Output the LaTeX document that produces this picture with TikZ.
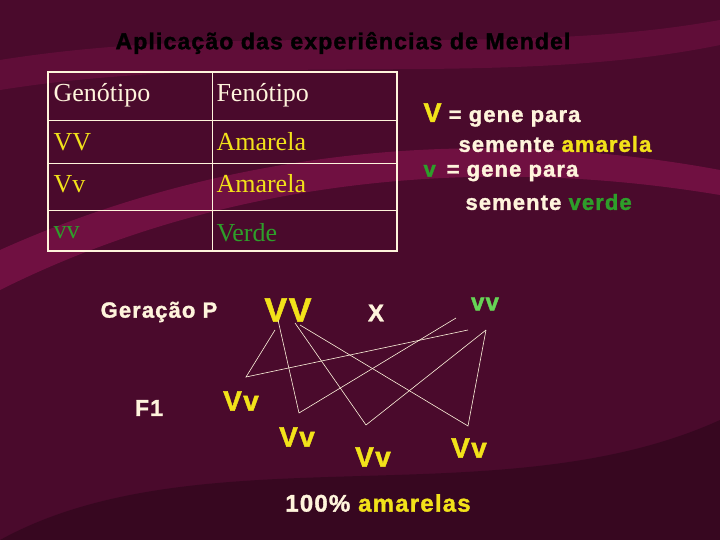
\documentclass[tikz,border=0pt]{standalone}
\usepackage{fontspec}
\setmainfont{Liberation Serif}
\setsansfont{Liberation Sans}
\newfontfamily\largesans[LetterSpace=5, BoldFeatures={FakeBold=1.5}]{Liberation Sans}
\definecolor{bgdark}{HTML}{4A0A2C}
\definecolor{bgband}{HTML}{8A1450}
\definecolor{amar}{HTML}{F2E21A}
\definecolor{verd}{HTML}{2E9E2A}
\definecolor{verdclaro}{HTML}{66D455}
\definecolor{creme}{HTML}{FFF4DC}
\begin{document}
\begin{tikzpicture}[x=1pt, y=-1pt,
		cell/.style={anchor=west, font=\fontsize{26}{28}\selectfont},
		legend/.style={anchor=west, font=\largesans\bfseries\fontsize{22}{23}\selectfont, text=creme},
		gen/.style={font=\largesans\bfseries\fontsize{28}{28}\selectfont, text=amar},
		cross/.style={draw=creme, line width=.6pt}]
		\fill[bgdark] (0, 0) rectangle (720, 540);
		\fill[bgband, opacity=.6] (0, 250) .. controls (200, 160) and (450, 120) .. (720, 170)
			-- (720, 195) .. controls (450, 150) and (200, 190) .. (0, 290) -- cycle;
		\fill[bgband, opacity=.35] (0, 60) .. controls (250, 20) and (500, 60) .. (720, 20)
			-- (720, 45) .. controls (500, 90) and (250, 50) .. (0, 90) -- cycle;
		\fill[black, opacity=.25] (0, 540) .. controls (200, 430) and (500, 520) .. (720, 420) -- (720, 540) -- cycle;

		\node (title) at (343, 43) {\largesans\bfseries\fontsize{23}{25}\selectfont Aplicação das experiências de Mendel};

		% tabela
		\draw[creme, line width=1.2pt] (48, 72) rectangle (397, 251);
		\draw[creme, line width=.8pt] (212, 72) -- (212, 251);
		\draw[creme, line width=.8pt] (48, 120) -- (397, 120);
		\draw[creme, line width=.8pt] (48, 163) -- (397, 163);
		\draw[creme, line width=.8pt] (48, 210) -- (397, 210);

		\node[cell, text=creme] (gtitle) at (50, 95) {Genótipo};
		\node[cell, text=creme] (ftitle) at (213, 95) {Fenótipo};
		\node[cell, text=amar] (gVV) at (50, 142) {VV};
		\node[cell, text=amar] (fVV) at (213, 142) {Amarela};
		\node[cell, text=amar] (gVv) at (50, 184) {Vv};
		\node[cell, text=amar] (fVv) at (213, 184) {Amarela};
		\node[cell, text=verd] (gvv) at (50, 233) {vv};
		\node[cell, text=verd] (fvv) at (213, 233) {Verde};

		% legenda
		\node[legend] (leg1) at (420, 115) {{\color{amar}\fontsize{27}{27}\selectfont V} = gene para};
		\node[legend] (leg2) at (455, 144) {semente {\color{amar}amarela}};
		\node[legend] (leg3) at (420, 173) {{\color{verd}v} \,= gene para};
		\node[legend] (leg4) at (462, 202) {semente {\color{verd}verde}};

		% cruzamento
		\node[legend, anchor=center] (gerp) at (159, 312) {Geração P};
		\node[gen, font=\largesans\bfseries\fontsize{34}{34}\selectfont] (pVV) at (288, 310) {VV};
		\node[legend, anchor=center, font=\largesans\bfseries\fontsize{24}{24}\selectfont] (x) at (376, 313) {X};
		\node[gen, text=verdclaro, font=\largesans\bfseries\fontsize{24}{24}\selectfont] (pvv) at (485, 304) {vv};
		\node[legend, anchor=center, font=\largesans\bfseries\fontsize{23}{23}\selectfont] (f1) at (149, 408) {F1};
		\node[gen] (f1a) at (241, 401) {Vv};
		\node[gen] (f1b) at (297, 437) {Vv};
		\node[gen] (f1c) at (373, 457) {Vv};
		\node[gen] (f1d) at (469, 448) {Vv};

		\coordinate (a1) at (275, 330);
		\coordinate (a2) at (278, 320);
		\coordinate (a3) at (295, 323);
		\coordinate (a4) at (300, 325);
		\coordinate (b1) at (468, 330);
		\coordinate (b2) at (456, 318);
		\coordinate (b3) at (486, 330);
		\coordinate (k1) at (246, 377);
		\coordinate (k2) at (299, 413);
		\coordinate (k3) at (366, 425);
		\coordinate (k4) at (468, 426);
		\draw[cross] (a1) -- (k1) -- (b1);
		\draw[cross] (a2) -- (k2) -- (b2);
		\draw[cross] (a3) -- (k3) -- (b3);
		\draw[cross] (a4) -- (k4) -- (b3);

		\node[legend, anchor=center, font=\largesans\bfseries\fontsize{24}{25}\selectfont] (res) at (378, 503) {100\% {\color{amar}amarelas}};
	\end{tikzpicture}
\end{document}
